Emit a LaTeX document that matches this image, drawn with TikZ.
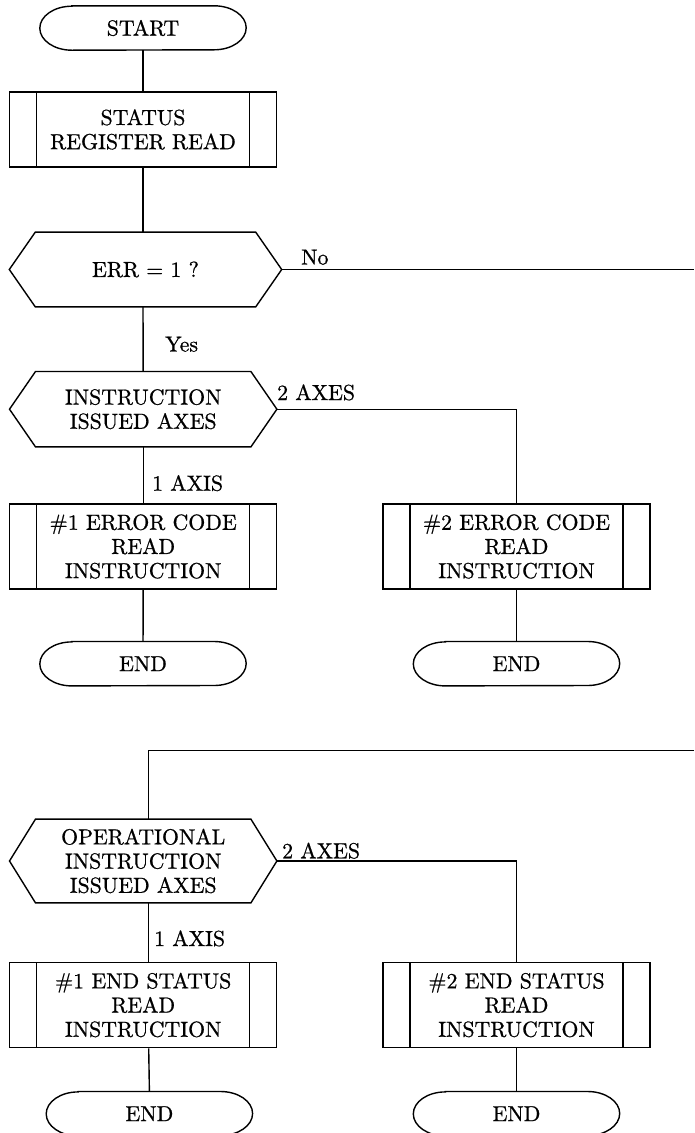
\documentclass[tikz,border=0pt]{standalone}
\usetikzlibrary{calc}

% text face: the 10pt design of Latin Modern Roman, set large and slightly heavier
\font\flowfont="[lmroman10-regular]:+tlig;embolden=0.8" at 21.8pt

% terminal: flat top and bottom with elliptic ends
\newcommand\termoutline[1]{%
  \draw[flow] ([xshift=32pt]#1.north west) -- ([xshift=-32pt]#1.north east)
    arc[start angle=90,end angle=-90,x radius=32pt,y radius=22pt]
    -- ([xshift=32pt]#1.south west)
    arc[start angle=270,end angle=90,x radius=32pt,y radius=22pt] -- cycle;}
% preparation: elongated hexagon
\newcommand\hexoutline[1]{%
  \draw[flow] ([xshift=26pt]#1.north west) -- ([xshift=-26pt]#1.north east)
    -- (#1.east) -- ([xshift=-26pt]#1.south east)
    -- ([xshift=26pt]#1.south west) -- (#1.west) -- cycle;}

\begin{document}
\begin{tikzpicture}[x=1pt,y=-1pt,
  every node/.style={font={\fontsize{21.8}{24.2}\selectfont\flowfont}, inner sep=0pt},
  flow/.style={line width=1.4pt, line join=miter},
  terminal/.style={minimum width=206pt, minimum height=44pt},
  subproc/.style={draw, line width=1.4pt, minimum width=267pt, align=center,
    path picture={\draw[line width=1.4pt]
      ([xshift=27pt]path picture bounding box.north west) -- ([xshift=27pt]path picture bounding box.south west)
      ([xshift=-27pt]path picture bounding box.north east) -- ([xshift=-27pt]path picture bounding box.south east);}},
  prep/.style={minimum width=267pt, align=center},
  lbl/.style={anchor=base west}
]
\useasboundingbox (0,0) rectangle (694,1133);

% ---- error check ----
\node[terminal] (start) at (143,28) {START};
\termoutline{start}
\node[subproc, minimum height=75pt] (status) at (143,129.5) {STATUS\\REGISTER READ};
\node[prep, minimum width=272pt, minimum height=74.4pt] (err) at (145.5,269.5) {ERR = 1 ?};
\hexoutline{err}
\node[prep, minimum height=75pt] (instr) at (143.2,409.2) {INSTRUCTION\\ISSUED AXES};
\hexoutline{instr}
\node[subproc, minimum height=85pt] (ecode1) at (143.2,546.5) {\#1 ERROR CODE\\READ\\INSTRUCTION};
\node[subproc, minimum height=85pt] (ecode2) at (516.5,546.5) {\#2 ERROR CODE\\READ\\INSTRUCTION};
\node[terminal] (end1) at (143,663.7) {END};
\termoutline{end1}
\node[terminal] (end2) at (516.5,663.7) {END};
\termoutline{end2}
\coordinate (noexit) at (694,269.5);

\draw[flow] (start) -- (status);
\draw[flow] (status.south) -- (status.south |- err.north);
\draw[flow] (err.east) -- (noexit);
\draw[flow] (status.south |- err.south) -- (instr.north);
\draw[flow] (instr.south) -- (ecode1.north);
\draw[flow] (instr.east) -| (ecode2.north);
\draw[flow] (ecode1) -- (end1);
\draw[flow] (ecode2) -- (end2);

\node[lbl] (nolbl) at (301,264.5) {No};
\node[lbl] (yeslbl) at (165,351.5) {Yes};
\node[lbl] (twoa) at (277,400) {2 AXES};
\node[lbl] (onea) at (152,490.7) {1 AXIS};

% ---- end status check ----
\coordinate (noentry) at (694,750.7);
\coordinate (col) at (148.7,750.7);
\node[prep, minimum height=83.4pt] (oper) at (143.2,861) {OPERATIONAL\\INSTRUCTION\\ISSUED AXES};
\hexoutline{oper}
\node[subproc, minimum height=85.4pt] (stat1) at (143.2,1005) {\#1 END STATUS\\READ\\INSTRUCTION};
\node[subproc, minimum height=85.4pt] (stat2) at (516.5,1005) {\#2 END STATUS\\READ\\INSTRUCTION};
\node[terminal] (end3) at (149.4,1113.7) {END};
\termoutline{end3}
\node[terminal] (end4) at (516.5,1113.7) {END};
\termoutline{end4}

\draw[flow] (noentry) -- (col) -- (col |- oper.north);
\draw[flow] (col |- oper.south) -- (col |- stat1.north);
\draw[flow] (oper.east) -| (stat2.north);
\draw[flow] (col |- stat1.south) -- (end3.north);
\draw[flow] (stat2) -- (end4);

\node[lbl] (twob) at (282,858.3) {2 AXES};
\node[lbl] (oneb) at (154,946) {1 AXIS};
\end{tikzpicture}
\end{document}
